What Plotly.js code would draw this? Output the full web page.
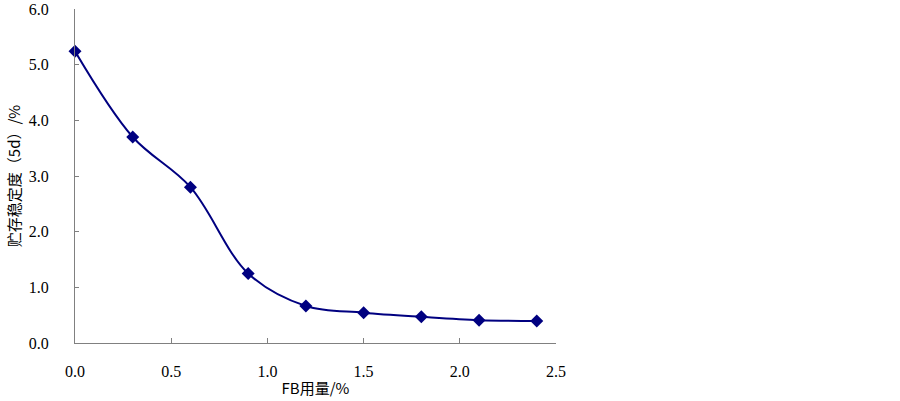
<!DOCTYPE html>
<html>
<head>
<meta charset="utf-8">
<script src="https://cdn.plot.ly/plotly-3.0.1.min.js"></script>
<style>html,body{margin:0;padding:0;background:#fff;}#chart{width:900px;height:401px;}</style>
</head>
<body>
<div id="chart"></div>
<script>
const fbDosage = [0, 0.3, 0.6, 0.9, 1.2, 1.5, 1.8, 2.1, 2.4];
const stability = [5.24, 3.70, 2.80, 1.25, 0.665, 0.545, 0.47, 0.41, 0.395];
const xTicks = [0, 0.5, 1.0, 1.5, 2.0, 2.5];
const yTicks = [0, 1, 2, 3, 4, 5, 6];

const trace = {
  x: fbDosage, y: stability, type: 'scatter', mode: 'lines+markers',
  line: {color: '#000080', width: 2, shape: 'spline', smoothing: 1},
  marker: {symbol: 'diamond', size: 10, color: '#000080'},
  cliponaxis: false, showlegend: false
};
const tickFont = {family: 'Liberation Serif', size: 16, color: '#000'};
const titleFont = {family: 'Noto Sans CJK SC', size: 15, color: '#000'};
const layout = {
  width: 900, height: 401,
  font: {family: 'Liberation Serif', size: 16, color: '#000'},
  margin: {l: 75, r: 344, t: 9, b: 58},
  paper_bgcolor: '#fff', plot_bgcolor: '#fff',
  xaxis: {
    range: [0, 2.5], tickvals: xTicks, tickformat: '.1f',
    showgrid: false, zeroline: false, showline: true, linecolor: '#808080', linewidth: 1,
    ticks: 'inside', ticklen: 5, tickcolor: '#808080', tickfont: tickFont, ticklabelstandoff: 14,
    title: {text: 'FB用量/%', font: titleFont, standoff: 4}
  },
  yaxis: {
    range: [0, 6], tickvals: yTicks, tickformat: '.1f',
    showgrid: false, zeroline: false, showline: true, linecolor: '#808080', linewidth: 1,
    ticks: 'inside', ticklen: 4, tickcolor: '#808080', tickfont: tickFont, ticklabelstandoff: 22,
    title: {text: '贮存稳定度（5d）/%', font: titleFont, standoff: 4}
  }
};
Plotly.newPlot('chart', [trace], layout, {staticPlot: true, displayModeBar: false});
</script>
</body>
</html>
